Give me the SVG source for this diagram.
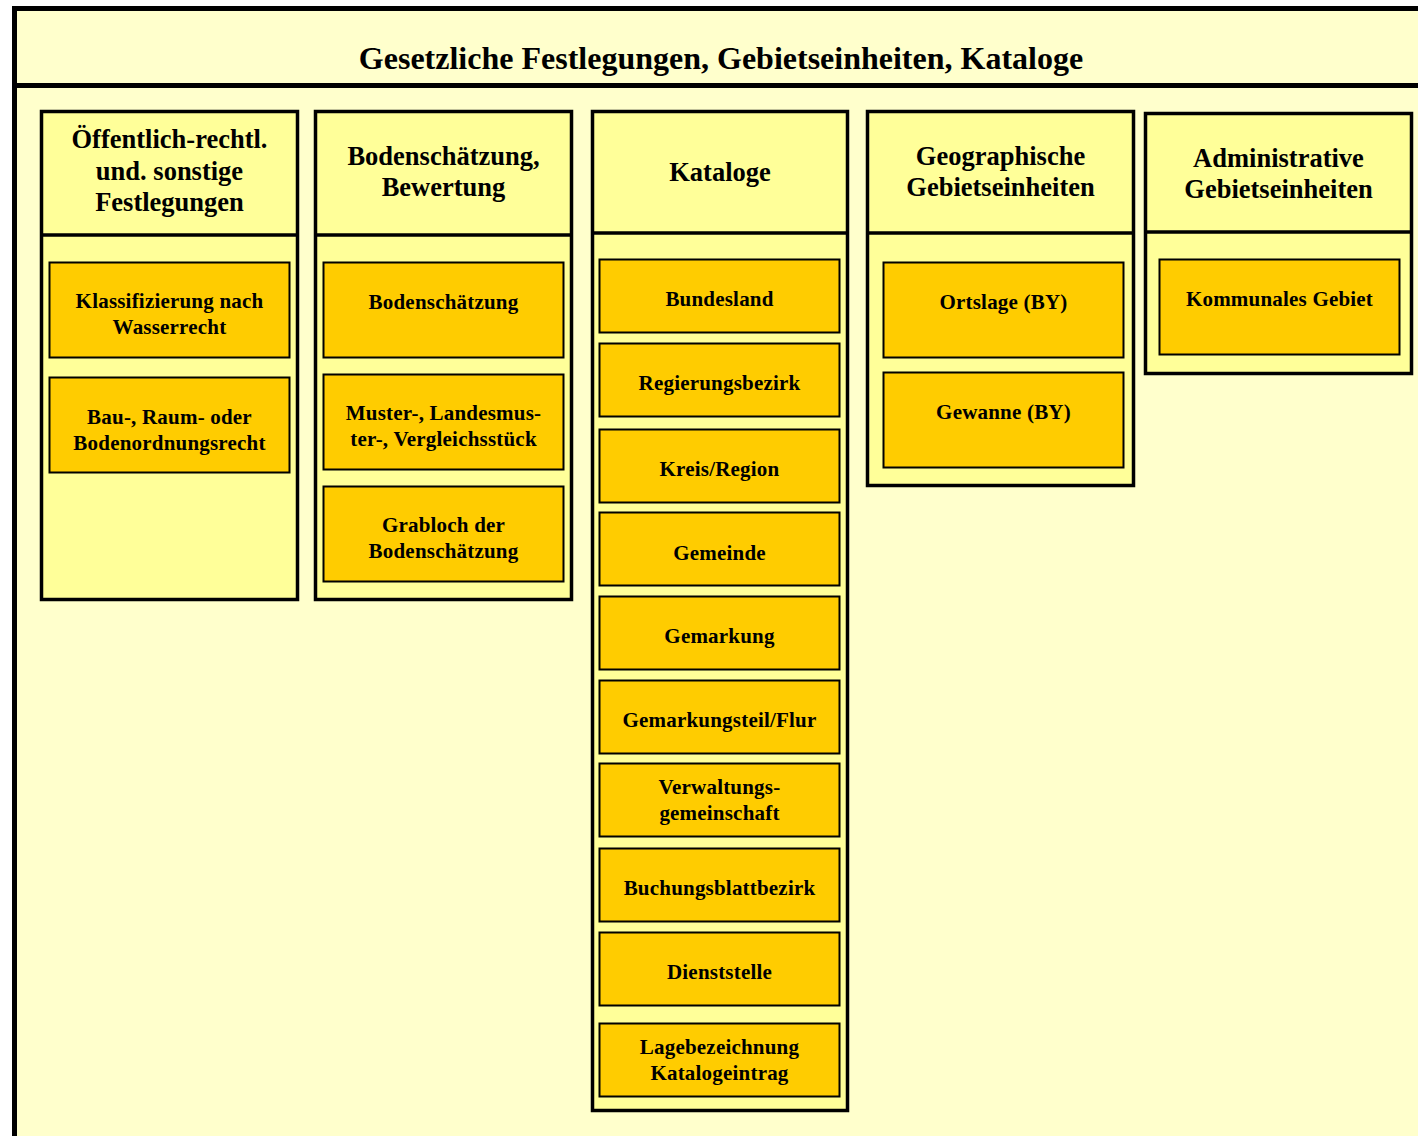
<svg xmlns="http://www.w3.org/2000/svg" width="1418" height="1136" viewBox="0 0 1418 1136">
<style>
.frame{fill:#FFFFCC;stroke:#000;stroke-width:5}
.col{fill:#FFFF99;stroke:#000;stroke-width:3.5}
.item{fill:#FFCC00;stroke:#000;stroke-width:2}
.t{font-family:"Liberation Serif","Times New Roman",serif;font-weight:bold;text-anchor:middle;fill:#000}
.title{font-size:32px}
.h{font-size:26.5px}
.i{font-size:21px;letter-spacing:0.2px}
</style>
<rect width="1418" height="1136" fill="#FFFFFF"/>
<g id="frame">
<rect class="frame" x="14.5" y="8.5" width="1420" height="1140"/>
<line x1="14.5" y1="85.5" x2="1418" y2="85.5" stroke="#000" stroke-width="5"/>
<text class="t title" x="721" y="69">Gesetzliche Festlegungen, Gebietseinheiten, Kataloge</text>
</g>
<g id="col1">
<rect class="col" x="41.5" y="111.5" width="256" height="488"/>
<line x1="41.5" y1="235" x2="297.5" y2="235" stroke="#000" stroke-width="3.5"/>
<text class="t h" x="169.5" y="148">Öffentlich-rechtl.</text>
<text class="t h" x="169.5" y="180">und. sonstige</text>
<text class="t h" x="169.5" y="211">Festlegungen</text>
</g>
<g id="n_klass"><rect class="item" x="49.5" y="262.5" width="240" height="95"/><text class="t i" x="169.5" y="308">Klassifizierung nach</text><text class="t i" x="169.5" y="334">Wasserrecht</text></g>
<g id="n_bau"><rect class="item" x="49.5" y="377.5" width="240" height="95"/><text class="t i" x="169.5" y="424">Bau-, Raum- oder</text><text class="t i" x="169.5" y="450">Bodenordnungsrecht</text></g>
<g id="col2">
<rect class="col" x="315.5" y="111.5" width="256" height="488"/>
<line x1="315.5" y1="235" x2="571.5" y2="235" stroke="#000" stroke-width="3.5"/>
<text class="t h" x="443.5" y="165">Bodenschätzung,</text>
<text class="t h" x="443.5" y="196">Bewertung</text>
</g>
<g id="n_bods"><rect class="item" x="323.5" y="262.5" width="240" height="95"/><text class="t i" x="443.5" y="309">Bodenschätzung</text></g>
<g id="n_muster"><rect class="item" x="323.5" y="374.5" width="240" height="95"/><text class="t i" x="443.5" y="420">Muster-, Landesmus-</text><text class="t i" x="443.5" y="446">ter-, Vergleichsstück</text></g>
<g id="n_grab"><rect class="item" x="323.5" y="486.5" width="240" height="95"/><text class="t i" x="443.5" y="532">Grabloch der</text><text class="t i" x="443.5" y="558">Bodenschätzung</text></g>
<g id="col3">
<rect class="col" x="592.5" y="111.5" width="255" height="999"/>
<line x1="592.5" y1="233" x2="847.5" y2="233" stroke="#000" stroke-width="3.5"/>
<text class="t h" x="720" y="181">Kataloge</text>
</g>
<g id="n_bl"><rect class="item" x="599.5" y="259.5" width="240" height="73"/><text class="t i" x="719.5" y="306">Bundesland</text></g>
<g id="n_rb"><rect class="item" x="599.5" y="343.5" width="240" height="73"/><text class="t i" x="719.5" y="390">Regierungsbezirk</text></g>
<g id="n_kr"><rect class="item" x="599.5" y="429.5" width="240" height="73"/><text class="t i" x="719.5" y="476">Kreis/Region</text></g>
<g id="n_gem"><rect class="item" x="599.5" y="512.5" width="240" height="73"/><text class="t i" x="719.5" y="560">Gemeinde</text></g>
<g id="n_gmk"><rect class="item" x="599.5" y="596.5" width="240" height="73"/><text class="t i" x="719.5" y="643">Gemarkung</text></g>
<g id="n_gmt"><rect class="item" x="599.5" y="680.5" width="240" height="73"/><text class="t i" x="719.5" y="727">Gemarkungsteil/Flur</text></g>
<g id="n_vg"><rect class="item" x="599.5" y="763.5" width="240" height="73"/><text class="t i" x="719.5" y="794">Verwaltungs-</text><text class="t i" x="719.5" y="820">gemeinschaft</text></g>
<g id="n_bb"><rect class="item" x="599.5" y="848.5" width="240" height="73"/><text class="t i" x="719.5" y="895">Buchungsblattbezirk</text></g>
<g id="n_ds"><rect class="item" x="599.5" y="932.5" width="240" height="73"/><text class="t i" x="719.5" y="979">Dienststelle</text></g>
<g id="n_lb"><rect class="item" x="599.5" y="1023.5" width="240" height="73"/><text class="t i" x="719.5" y="1054">Lagebezeichnung</text><text class="t i" x="719.5" y="1080">Katalogeintrag</text></g>
<g id="col4">
<rect class="col" x="867.5" y="111.5" width="266" height="374"/>
<line x1="867.5" y1="233" x2="1133.5" y2="233" stroke="#000" stroke-width="3.5"/>
<text class="t h" x="1000.5" y="165">Geographische</text>
<text class="t h" x="1000.5" y="196">Gebietseinheiten</text>
</g>
<g id="n_ort"><rect class="item" x="883.5" y="262.5" width="240" height="95"/><text class="t i" x="1003.5" y="309">Ortslage (BY)</text></g>
<g id="n_gew"><rect class="item" x="883.5" y="372.5" width="240" height="95"/><text class="t i" x="1003.5" y="419">Gewanne (BY)</text></g>
<g id="col5">
<rect class="col" x="1145.5" y="113.5" width="266" height="260"/>
<line x1="1145.5" y1="232" x2="1411.5" y2="232" stroke="#000" stroke-width="3.5"/>
<text class="t h" x="1278.5" y="167">Administrative</text>
<text class="t h" x="1278.5" y="198">Gebietseinheiten</text>
</g>
<g id="n_kom"><rect class="item" x="1159.5" y="259.5" width="240" height="95"/><text class="t i" x="1279.5" y="306">Kommunales Gebiet</text></g>
<g id="connectors"></g>
</svg>
